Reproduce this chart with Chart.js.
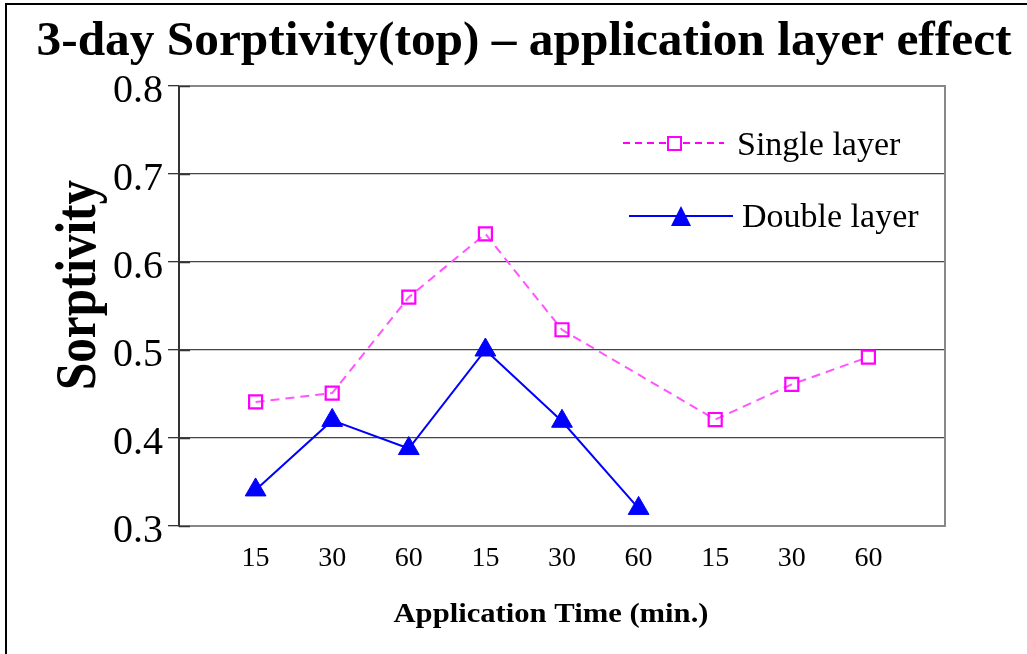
<!DOCTYPE html>
<html>
<head>
<meta charset="utf-8">
<script src="https://cdn.jsdelivr.net/npm/chart.js@4/dist/chart.umd.min.js"></script>
<style>
  html, body { margin: 0; padding: 0; background: #fff; }
  #wrap { width: 1027px; height: 654px; position: relative; }
</style>
</head>
<body>
<div id="wrap"><canvas id="chart" width="1027" height="654"></canvas></div>
<script>
// values
const timeLabels = ['15', '30', '60', '15', '30', '60', '15', '30', '60'];
const singleLayer = [0.441, 0.451, 0.56, 0.632, 0.523, null, 0.421, 0.461, 0.492];
const doubleLayer = [0.341, 0.42, 0.388, 0.5, 0.419, 0.32, null, null, null];
const yTicks = [0.3, 0.4, 0.5, 0.6, 0.7, 0.8];

const titleText = '3-day Sorptivity(top) \u2013 application layer effect';
const serif = "'Liberation Serif', 'Times New Roman', serif";

// empty slot at each end so the points sit one step in from the frame
const labels = [''].concat(timeLabels, ['']);
const pad = arr => [null].concat(arr, [null]);

const MAGENTA = '#FF00FF';
const PINK_LINE = 'rgb(255,85,255)';
const BLUE = '#0000FF';

function fitText(ctx, text, x, y, width, align) {
    const w = ctx.measureText(text).width;
    const s = width / w;
    ctx.save();
    ctx.translate(x, y);
    ctx.scale(s, 1);
    ctx.textAlign = align || 'center';
    ctx.fillText(text, 0, 0);
    ctx.restore();
}

const decorations = {
    id: 'decorations',
    afterDraw(chart) {
        const ctx = chart.ctx;
        const a = chart.chartArea;
        const yScale = chart.scales.y;
        ctx.save();

        // outer frame (top + left only visible)
        ctx.strokeStyle = '#000';
        ctx.lineWidth = 2;
        ctx.beginPath();
        ctx.moveTo(6, 654);
        ctx.lineTo(6, 4);
        ctx.lineTo(1027, 4);
        ctx.stroke();

        // plot border top + right
        ctx.strokeStyle = '#888';
        ctx.lineWidth = 2;
        ctx.beginPath();
        ctx.moveTo(a.left, a.top);
        ctx.lineTo(a.right, a.top);
        ctx.lineTo(a.right, a.bottom);
        ctx.stroke();

        // inner half of the cross tick marks
        ctx.strokeStyle = '#333';
        ctx.lineWidth = 1.5;
        yTicks.forEach(v => {
            const py = Math.round(yScale.getPixelForValue(v)) + 0.5;
            ctx.beginPath();
            ctx.moveTo(a.left, py);
            ctx.lineTo(a.left + 11, py);
            ctx.stroke();
        });

        ctx.fillStyle = '#000';
        ctx.textBaseline = 'alphabetic';

        // chart title
        ctx.font = 'bold 48px ' + serif;
        fitText(ctx, titleText, 524, 55, 975);

        // axis titles
        ctx.font = 'bold 28px ' + serif;
        fitText(ctx, 'Application Time (min.)', 551, 622, 315);

        ctx.save();
        ctx.translate(95, 285);
        ctx.rotate(-Math.PI / 2);
        ctx.font = 'bold 48px ' + serif;
        const tw = ctx.measureText('Sorptivity').width;
        ctx.scale(210 / tw, 1.2);
        ctx.textAlign = 'center';
        ctx.fillText('Sorptivity', 0, 0);
        ctx.restore();

        // legend
        ctx.font = '34px ' + serif;
        ctx.textAlign = 'left';
        // single layer
        ctx.strokeStyle = MAGENTA;
        ctx.lineWidth = 2;
        ctx.setLineDash([7, 5]);
        ctx.beginPath();
        ctx.moveTo(623, 143);
        ctx.lineTo(724, 143);
        ctx.stroke();
        ctx.setLineDash([]);
        ctx.fillStyle = '#fff';
        ctx.fillRect(668, 137, 13, 13);
        ctx.lineWidth = 2;
        ctx.strokeRect(668, 137, 13, 13);
        ctx.fillStyle = '#000';
        ctx.fillText('Single layer', 737, 155);

        // double layer
        ctx.strokeStyle = BLUE;
        ctx.lineWidth = 2;
        ctx.beginPath();
        ctx.moveTo(629, 216);
        ctx.lineTo(733, 216);
        ctx.stroke();
        ctx.fillStyle = BLUE;
        ctx.beginPath();
        ctx.moveTo(681, 206);
        ctx.lineTo(691, 226);
        ctx.lineTo(671, 226);
        ctx.closePath();
        ctx.fill();
        ctx.fillStyle = '#000';
        ctx.fillText('Double layer', 742, 227);

        ctx.restore();
    }
};

new Chart(document.getElementById('chart'), {
    type: 'line',
    data: {
        labels: labels,
        datasets: [
            {
                label: 'Single layer',
                data: pad(singleLayer),
                borderColor: PINK_LINE,
                borderWidth: 2,
                borderDash: [9, 6],
                spanGaps: true,
                pointStyle: 'rect',
                pointRadius: 9.2,
                pointBorderWidth: 2.2,
                pointBorderColor: MAGENTA,
                pointBackgroundColor: 'rgba(0,0,0,0)',
                tension: 0
            },
            {
                label: 'Double layer',
                data: pad(doubleLayer),
                borderColor: BLUE,
                borderWidth: 2,
                spanGaps: false,
                pointStyle: 'triangle',
                pointRadius: 12,
                pointBorderWidth: 1,
                pointBorderColor: BLUE,
                pointBackgroundColor: BLUE,
                tension: 0
            }
        ]
    },
    options: {
        responsive: false,
        animation: false,
        layout: { padding: { top: 86, right: 82, bottom: 0, left: 0 } },
        plugins: {
            legend: { display: false },
            title: { display: false },
            tooltip: { enabled: false }
        },
        scales: {
            x: {
                type: 'category',
                offset: false,
                afterFit: s => { s.height = 128; },
                grid: { display: false, drawTicks: false },
                border: { display: true, color: '#888', width: 2 },
                ticks: {
                    autoSkip: false,
                    maxRotation: 0,
                    padding: 16,
                    color: '#000',
                    font: { family: serif, size: 28 }
                }
            },
            y: {
                min: 0.3,
                max: 0.8,
                afterFit: s => { s.width = 179; },
                afterBuildTicks: s => { s.ticks = yTicks.map(v => ({ value: v })); },
                border: { display: true, color: '#333', width: 2 },
                grid: {
                    color: ctx => (ctx.tick && (ctx.tick.value === 0.3 || ctx.tick.value === 0.8)) ? 'rgba(0,0,0,0)' : '#444',
                    lineWidth: 1.3,
                    tickColor: '#333',
                    tickLength: 11,
                    drawTicks: true
                },
                ticks: {
                    padding: 5,
                    labelOffset: 5,
                    color: '#000',
                    font: { family: serif, size: 40 },
                    callback: v => v.toFixed(1)
                }
            }
        }
    },
    plugins: [decorations]
});
</script>
</body>
</html>
